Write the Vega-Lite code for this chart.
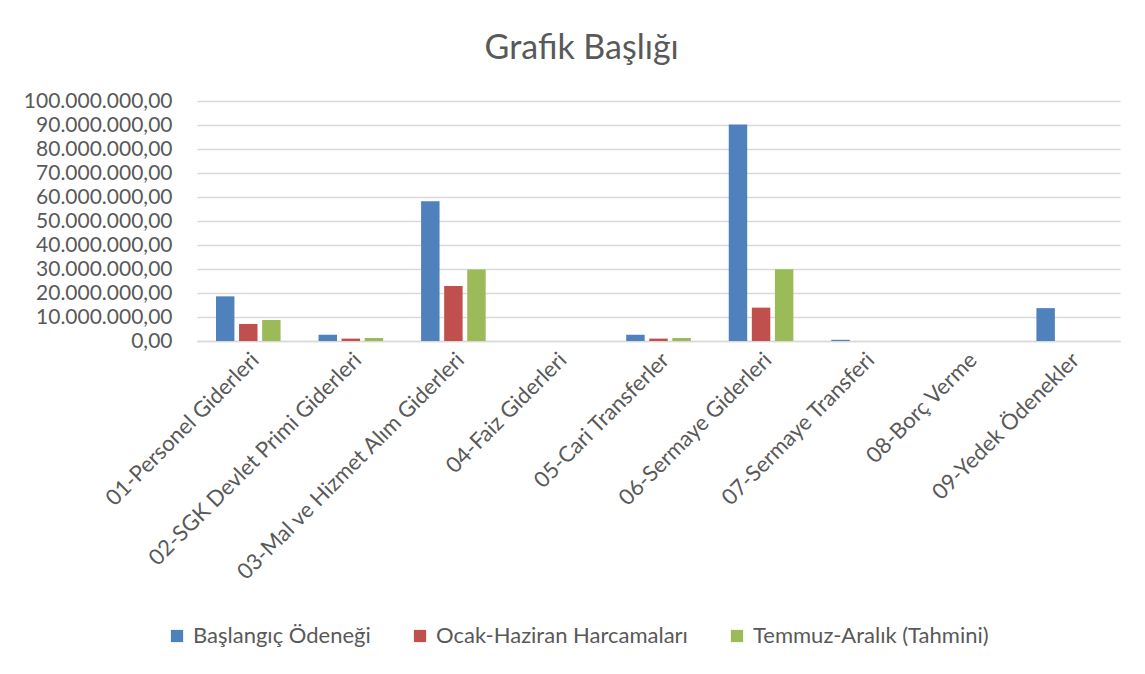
{
  "$schema": "https://vega.github.io/schema/vega-lite/v6.json",
  "autosize": {"type": "none"},
  "width": 923,
  "height": 240,
  "padding": {"left": 197, "top": 101, "right": 25, "bottom": 333},
  "background": "white",
  "title": {"text": "Grafik Başlığı", "fontSize": 34, "font": "Lato", "fontWeight": "normal", "color": "#595959", "anchor": "middle", "frame": "bounds", "offset": 24, "dx": 10},
  "data": {"values": [
    {"kategori": "01-Personel Giderleri", "seri": "Başlangıç Ödeneği", "deger": 18600000},
    {"kategori": "01-Personel Giderleri", "seri": "Ocak-Haziran Harcamaları", "deger": 7100000},
    {"kategori": "01-Personel Giderleri", "seri": "Temmuz-Aralık (Tahmini)", "deger": 8750000},
    {"kategori": "02-SGK Devlet Primi Giderleri", "seri": "Başlangıç Ödeneği", "deger": 2600000},
    {"kategori": "02-SGK Devlet Primi Giderleri", "seri": "Ocak-Haziran Harcamaları", "deger": 1000000},
    {"kategori": "02-SGK Devlet Primi Giderleri", "seri": "Temmuz-Aralık (Tahmini)", "deger": 1250000},
    {"kategori": "03-Mal ve Hizmet Alım Giderleri", "seri": "Başlangıç Ödeneği", "deger": 58200000},
    {"kategori": "03-Mal ve Hizmet Alım Giderleri", "seri": "Ocak-Haziran Harcamaları", "deger": 22900000},
    {"kategori": "03-Mal ve Hizmet Alım Giderleri", "seri": "Temmuz-Aralık (Tahmini)", "deger": 29800000},
    {"kategori": "04-Faiz Giderleri", "seri": "Başlangıç Ödeneği", "deger": 0},
    {"kategori": "04-Faiz Giderleri", "seri": "Ocak-Haziran Harcamaları", "deger": 0},
    {"kategori": "04-Faiz Giderleri", "seri": "Temmuz-Aralık (Tahmini)", "deger": 0},
    {"kategori": "05-Cari Transferler", "seri": "Başlangıç Ödeneği", "deger": 2600000},
    {"kategori": "05-Cari Transferler", "seri": "Ocak-Haziran Harcamaları", "deger": 1000000},
    {"kategori": "05-Cari Transferler", "seri": "Temmuz-Aralık (Tahmini)", "deger": 1250000},
    {"kategori": "06-Sermaye Giderleri", "seri": "Başlangıç Ödeneği", "deger": 90200000},
    {"kategori": "06-Sermaye Giderleri", "seri": "Ocak-Haziran Harcamaları", "deger": 13900000},
    {"kategori": "06-Sermaye Giderleri", "seri": "Temmuz-Aralık (Tahmini)", "deger": 29900000},
    {"kategori": "07-Sermaye Transferi", "seri": "Başlangıç Ödeneği", "deger": 500000},
    {"kategori": "07-Sermaye Transferi", "seri": "Ocak-Haziran Harcamaları", "deger": 0},
    {"kategori": "07-Sermaye Transferi", "seri": "Temmuz-Aralık (Tahmini)", "deger": 0},
    {"kategori": "08-Borç Verme", "seri": "Başlangıç Ödeneği", "deger": 0},
    {"kategori": "08-Borç Verme", "seri": "Ocak-Haziran Harcamaları", "deger": 0},
    {"kategori": "08-Borç Verme", "seri": "Temmuz-Aralık (Tahmini)", "deger": 0},
    {"kategori": "09-Yedek Ödenekler", "seri": "Başlangıç Ödeneği", "deger": 13700000},
    {"kategori": "09-Yedek Ödenekler", "seri": "Ocak-Haziran Harcamaları", "deger": 0},
    {"kategori": "09-Yedek Ödenekler", "seri": "Temmuz-Aralık (Tahmini)", "deger": 0}
  ]},
  "mark": {"type": "bar"},
  "encoding": {
    "x": {
      "field": "kategori", "type": "nominal", "sort": null, "title": null,
      "scale": {"paddingInner": 0.37, "paddingOuter": 0.185},
      "axis": {"labelAngle": -45, "labelFontSize": 22, "labelFont": "Lato", "labelColor": "#595959", "ticks": false, "domainColor": "#d9d9d9", "domainWidth": 1.5, "labelPadding": 8, "labelLimit": 400}
    },
    "xOffset": {"field": "seri", "type": "nominal", "sort": null, "scale": {"paddingInner": 0.2}},
    "y": {
      "field": "deger", "type": "quantitative", "title": null,
      "scale": {"domain": [0, 100000000], "nice": false},
      "axis": {"values": [0, 10000000, 20000000, 30000000, 40000000, 50000000, 60000000, 70000000, 80000000, 90000000, 100000000], "format": ",.2f", "labelFontSize": 21, "labelFont": "Lato", "labelColor": "#595959", "domain": false, "ticks": false, "gridColor": "#d9d9d9", "gridWidth": 1.3, "labelPadding": 25}
    },
    "color": {
      "field": "seri", "type": "nominal", "sort": null, "title": null,
      "scale": {"domain": ["Başlangıç Ödeneği", "Ocak-Haziran Harcamaları", "Temmuz-Aralık (Tahmini)"], "range": ["#4F81BD", "#C0504D", "#9BBB59"]},
      "legend": {"orient": "none", "legendX": -31, "legendY": 524, "direction": "horizontal", "symbolType": "square", "symbolSize": 150, "symbolStrokeWidth": 0, "labelFontSize": 22, "labelFont": "Lato", "labelColor": "#595959", "columnPadding": 38, "labelOffset": 5, "labelLimit": 400}
    }
  },
  "config": {
    "view": {"stroke": null},
    "locale": {"number": {"decimal": ",", "thousands": ".", "grouping": [3], "currency": ["", ""]}}
  }
}
